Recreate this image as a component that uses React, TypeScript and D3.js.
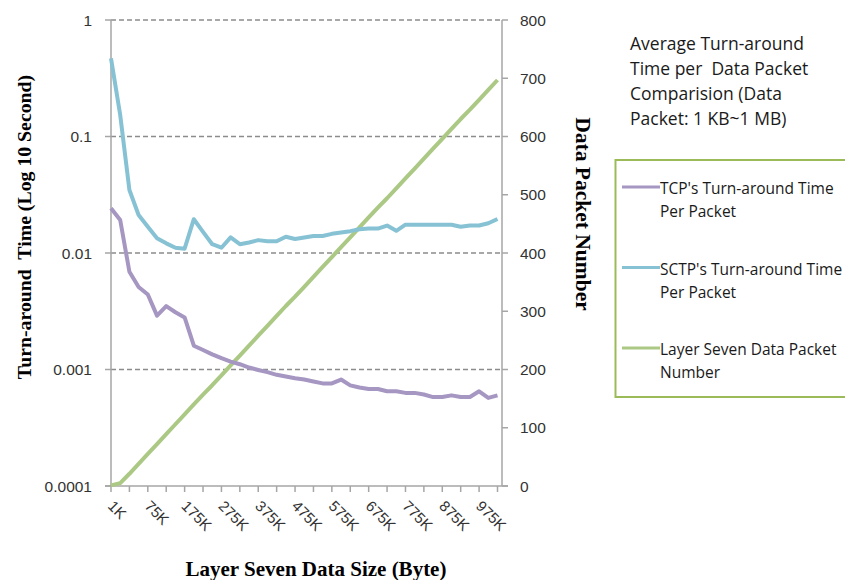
import React, { useEffect, useRef } from 'react';
import * as d3 from 'd3';

// data packet sizes on the category axis
const categories = [
    '1K', '10K', '25K', '50K', '75K', '100K', '125K', '150K', '175K', '200K',
    '225K', '250K', '275K', '300K', '325K', '350K', '375K', '400K', '425K', '450K',
    '475K', '500K', '525K', '550K', '575K', '600K', '625K', '650K', '675K', '700K',
    '725K', '750K', '775K', '800K', '825K', '850K', '875K', '900K', '925K', '950K',
    '975K', '1000K', '1024K'
];
const xTickLabels = ['1K', '75K', '175K', '275K', '375K', '475K', '575K', '675K', '775K', '875K', '975K'];

// seconds (log axis)
const tcpTime = [
    0.0242, 0.0192, 0.0069, 0.0051, 0.0044, 0.0029, 0.0035, 0.0031, 0.0028, 0.0016,
    0.00147, 0.00135, 0.00125, 0.00117, 0.00111, 0.00104, 0.00099, 0.00095, 0.0009, 0.00087,
    0.00084, 0.00082, 0.00079, 0.00076, 0.00076, 0.00082, 0.00073, 0.0007, 0.00068, 0.00068,
    0.00065, 0.00065, 0.00063, 0.00063, 0.00061, 0.00058, 0.00058, 0.0006, 0.00058, 0.00058,
    0.00065, 0.00057, 0.0006
];
const sctpTime = [
    0.469, 0.153, 0.0347, 0.0212, 0.0168, 0.0134, 0.0121, 0.0111, 0.0109, 0.0195,
    0.0152, 0.0119, 0.0111, 0.0136, 0.0119, 0.0123, 0.0129, 0.0126, 0.0126, 0.0138,
    0.0132, 0.0136, 0.014, 0.014, 0.0146, 0.015, 0.0154, 0.016, 0.0162, 0.0162,
    0.0172, 0.0155, 0.0175, 0.0175, 0.0175, 0.0175, 0.0175, 0.0175, 0.0168, 0.0172,
    0.0172, 0.018, 0.0196
];
// packets (right axis)
const packetCount = [
    1, 5, 21, 38, 55, 72, 89, 106, 123, 140,
    157, 173, 190, 207, 224, 241, 258, 275, 292, 309,
    325, 342, 359, 376, 393, 410, 427, 444, 461, 478,
    494, 511, 528, 545, 562, 579, 596, 613, 630, 646,
    663, 680, 697
];

const leftTicks = [1, 0.1, 0.01, 0.001, 0.0001];
const leftTickLabels = ['1', '0.1', '0.01', '0.001', '0.0001'];
const rightTicks = [0, 100, 200, 300, 400, 500, 600, 700, 800];

const titleLines = ['Average Turn-around', 'Time per  Data Packet', 'Comparision (Data', 'Packet: 1 KB~1 MB)'];
const legendLabels = [
    ["TCP's Turn-around Time", 'Per Packet'],
    ["SCTP's Turn-around Time", 'Per Packet'],
    ['Layer Seven Data Packet', 'Number']
];
const legendColors = ['#a596c2', '#86c2d4', '#abc984'];

function App() {

    const ref = useRef(null);

    useEffect(() => {
        drawChart();
    });

    function drawChart() {

        const width = 845;
        const height = 580;
        const left = 111, right = 502, top = 20, bottom = 486;
        const axisColor = '#a6a6a6';
        const sans = '"Liberation Sans", Arial, sans-serif';
        const serif = '"Liberation Serif", "Times New Roman", serif';
        const calibri = '"Open Sans", sans-serif';

        d3.select(ref.current).select('svg').remove();

        const svg = d3
            .select(ref.current)
            .append('svg')
            .attr('width', width)
            .attr('height', height)
            .style('position', 'absolute')
            .style('left', 0)
            .style('top', 0)
            .style('background', '#ffffff')
        ;

        const x = d3.scalePoint().domain(categories).range([left, 497.5]);
        const yLeft = d3.scaleLog().domain([0.0001, 1]).range([bottom, top]);
        const yRight = d3.scaleLinear().domain([0, 800]).range([bottom, top]);

        // dashed gridlines
        svg.selectAll('.grid')
            .data(leftTicks.slice(0, 4))
            .enter()
            .append('line')
            .attr('x1', left)
            .attr('x2', right)
            .attr('y1', d => yLeft(d))
            .attr('y2', d => yLeft(d))
            .style('stroke', '#8c8c8c')
            .style('stroke-width', 1.3)
            .style('stroke-dasharray', '5,3')
        ;

        // axis lines
        svg.append('line').attr('x1', left).attr('x2', left).attr('y1', top).attr('y2', bottom)
            .style('stroke', axisColor).style('stroke-width', 1.5);
        svg.append('line').attr('x1', right).attr('x2', right).attr('y1', top).attr('y2', bottom)
            .style('stroke', axisColor).style('stroke-width', 1.5);
        svg.append('line').attr('x1', left - 6).attr('x2', right + 6).attr('y1', bottom).attr('y2', bottom)
            .style('stroke', axisColor).style('stroke-width', 1.5);

        // left ticks + labels
        svg.selectAll('.lt')
            .data(leftTicks)
            .enter()
            .append('line')
            .attr('x1', left - 6)
            .attr('x2', left)
            .attr('y1', d => yLeft(d))
            .attr('y2', d => yLeft(d))
            .style('stroke', axisColor)
            .style('stroke-width', 1.5)
        ;
        svg.selectAll('.ll')
            .data(leftTicks)
            .enter()
            .append('text')
            .attr('x', 92)
            .attr('y', d => yLeft(d))
            .attr('dy', '0.36em')
            .attr('text-anchor', 'end')
            .style('font-family', sans)
            .style('font-size', '15.5px')
            .style('fill', '#333333')
            .text((_, i) => leftTickLabels[i])
        ;

        // right ticks + labels
        svg.selectAll('.rt')
            .data(rightTicks)
            .enter()
            .append('line')
            .attr('x1', right)
            .attr('x2', right + 6)
            .attr('y1', d => yRight(d))
            .attr('y2', d => yRight(d))
            .style('stroke', axisColor)
            .style('stroke-width', 1.5)
        ;
        svg.selectAll('.rl')
            .data(rightTicks)
            .enter()
            .append('text')
            .attr('x', 520)
            .attr('y', d => yRight(d))
            .attr('dy', '0.36em')
            .style('font-family', sans)
            .style('font-size', '15.5px')
            .style('fill', '#333333')
            .text(d => d)
        ;

        // x ticks every second category
        svg.selectAll('.xt')
            .data(categories.filter((_, i) => i % 2 === 0))
            .enter()
            .append('line')
            .attr('x1', d => x(d))
            .attr('x2', d => x(d))
            .attr('y1', bottom)
            .attr('y2', bottom + 6)
            .style('stroke', axisColor)
            .style('stroke-width', 1.5)
        ;
        svg.selectAll('.xl')
            .data(xTickLabels)
            .enter()
            .append('text')
            .attr('transform', d => `translate(${x(d) - 4}, ${bottom + 21}) rotate(45)`)
            .style('font-family', sans)
            .style('font-size', '15px')
            .style('fill', '#333333')
            .text(d => d)
        ;

        // axis titles
        svg.append('text')
            .attr('transform', `translate(31, 227) rotate(-90)`)
            .attr('text-anchor', 'middle')
            .style('font-family', serif)
            .style('font-weight', 'bold')
            .style('font-size', '19.8px')
            .style('white-space', 'pre')
            .text('Turn-around  Time (Log 10 Second)')
        ;
        svg.append('text')
            .attr('transform', `translate(576, 214) rotate(90)`)
            .attr('text-anchor', 'middle')
            .style('font-family', serif)
            .style('font-weight', 'bold')
            .style('font-size', '21.5px')
            .text('Data Packet Number')
        ;
        svg.append('text')
            .attr('x', 316)
            .attr('y', 576)
            .attr('text-anchor', 'middle')
            .style('font-family', serif)
            .style('font-weight', 'bold')
            .style('font-size', '21px')
            .text('Layer Seven Data Size (Byte)')
        ;

        // series
        const lineLog = d3.line()
            .x((_, i) => x(categories[i]))
            .y(d => yLeft(d))
        ;
        const lineLin = d3.line()
            .x((_, i) => x(categories[i]))
            .y(d => yRight(d))
        ;
        const series = [
            { d: lineLin(packetCount), c: legendColors[2] },
            { d: lineLog(sctpTime), c: legendColors[1] },
            { d: lineLog(tcpTime), c: legendColors[0] }
        ];
        svg.selectAll('.series')
            .data(series)
            .enter()
            .append('path')
            .attr('d', d => d.d)
            .style('fill', 'none')
            .style('stroke', d => d.c)
            .style('stroke-width', 4)
            .style('stroke-linejoin', 'round')
        ;

        // title
        svg.selectAll('.title')
            .data(titleLines)
            .enter()
            .append('text')
            .attr('x', 630)
            .attr('y', (_, i) => 50 + i * 25)
            .style('font-family', calibri)
            .style('font-size', '17.5px')
            .style('fill', '#1a1a1a')
            .style('white-space', 'pre')
            .text(d => d)
        ;

        // legend
        svg.append('rect')
            .attr('x', 615.5)
            .attr('y', 160)
            .attr('width', 270)
            .attr('height', 237)
            .style('fill', 'none')
            .style('stroke', '#9bbb59')
            .style('stroke-width', 2)
        ;
        const item = svg.selectAll('.leg')
            .data(legendLabels)
            .enter()
            .append('g')
            .attr('transform', (_, i) => `translate(0, ${187 + i * 80.5})`)
        ;
        item.append('line')
            .attr('x1', 622)
            .attr('x2', 660)
            .style('stroke', (_, i) => legendColors[i])
            .style('stroke-width', 3)
        ;
        item.append('text')
            .attr('x', 660)
            .attr('y', 7)
            .style('font-family', calibri)
            .style('font-size', '15.5px')
            .style('fill', '#1a1a1a')
            .text(d => d[0])
        ;
        item.append('text')
            .attr('x', 660)
            .attr('y', 30)
            .style('font-family', calibri)
            .style('font-size', '15.5px')
            .style('fill', '#1a1a1a')
            .text(d => d[1])
        ;
    };

    return <div ref={ref} />;
};

export default App;
